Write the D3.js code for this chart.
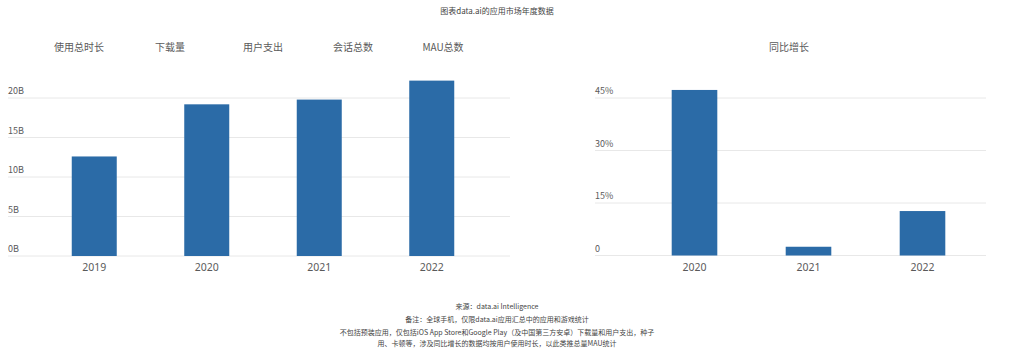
<!DOCTYPE html>
<html>
<head>
<meta charset="utf-8">
<script src="https://cdn.jsdelivr.net/npm/d3@7"></script>
<style>
  html, body { margin: 0; padding: 0; background: #fff; }
  svg { display: block; font-family: "Noto Sans CJK SC", "Noto Sans", sans-serif; }
</style>
</head>
<body>
<svg id="chart" width="1025" height="350"></svg>
<script>
// Annual totals (billions) and year-over-year growth (%)
const years = ["2019", "2020", "2021", "2022"];
const totals = [12.6, 19.2, 19.8, 22.2];
const growthYears = ["2020", "2021", "2022"];
const growth = [47.3, 2.5, 12.7];

const leftTicks = [0, 5, 10, 15, 20];
const leftTickLabels = ["0B", "5B", "10B", "15B", "20B"];
const rightTicks = [0, 15, 30, 45];
const rightTickLabels = ["0", "15%", "30%", "45%"];

const metrics = ["使用总时长", "下载量", "用户支出", "会话总数", "MAU总数"];
const title = "图表data.ai的应用市场年度数据";
const rightTitle = "同比增长";
const notes = [
  "来源：data.ai Intelligence",
  "备注：全球手机，仅限data.ai应用汇总中的应用和游戏统计",
  "不包括预装应用，仅包括iOS App Store和Google Play（及中国第三方安卓）下载量和用户支出，种子",
  "用、卡顿等，涉及同比增长的数据均按用户使用时长，以此类推总量MAU统计"
];

const BAR = "#2b6ba7";
const GRID = "#e8e8e8";
const TEXT = "#5a5a5a";

const svg = d3.select("#chart");

// Title
svg.append("text")
  .attr("x", 497).attr("y", 14)
  .attr("text-anchor", "middle")
  .attr("font-size", 8).attr("fill", "#444")
  .text(title);

// Metric selector row
const metricX = [79, 170, 263, 353, 443];
svg.append("g").selectAll("text").data(metrics).join("text")
  .attr("x", (d, i) => metricX[i]).attr("y", 51)
  .attr("text-anchor", "middle")
  .attr("font-size", 10).attr("fill", TEXT)
  .text(d => d);

svg.append("text")
  .attr("x", 789).attr("y", 51)
  .attr("text-anchor", "middle")
  .attr("font-size", 10).attr("fill", TEXT)
  .text(rightTitle);

// Draws one bar panel with gridlines and labels above each line
function panel(cats, vals, ticks, tickLabels, opt) {
  const g = svg.append("g");
  const x = d3.scaleBand().domain(cats).range(opt.xRange)
    .paddingInner(0.6).paddingOuter(0.3);
  const y = d3.scaleLinear().domain(opt.yDomain).range(opt.yRange);

  const grid = g.append("g").selectAll("g").data(ticks).join("g");
  grid.append("line")
    .attr("x1", opt.gridX[0]).attr("x2", opt.gridX[1])
    .attr("y1", d => y(d)).attr("y2", d => y(d))
    .attr("stroke", GRID).attr("stroke-width", 1);
  grid.append("text")
    .attr("x", opt.labelX).attr("y", d => y(d) - 4)
    .attr("font-size", 9).attr("fill", TEXT)
    .text((d, i) => tickLabels[i]);

  g.append("g").selectAll("rect").data(vals).join("rect")
    .attr("x", (d, i) => x(cats[i]))
    .attr("width", x.bandwidth())
    .attr("y", d => y(d))
    .attr("height", d => y(0) - y(d))
    .attr("fill", BAR);

  const xAxis = d3.axisBottom(x).tickSize(0).tickPadding(8);
  const ax = g.append("g").attr("transform", `translate(0,${y(0)})`).call(xAxis);
  ax.select(".domain").remove();
  ax.selectAll("text").attr("font-size", 10.5).attr("fill", TEXT)
    .attr("font-family", "'Noto Sans', sans-serif");
}

panel(years, totals, leftTicks, leftTickLabels, {
  xRange: [38, 488], yDomain: [0, 20], yRange: [256, 98],
  gridX: [8, 510], labelX: 8
});

panel(growthYears, growth, rightTicks, rightTickLabels, {
  xRange: [637.5, 979.5], yDomain: [0, 45], yRange: [255.5, 98],
  gridX: [595, 986], labelX: 595
});

// Source and notes
svg.append("g").selectAll("text").data(notes).join("text")
  .attr("x", 497).attr("y", (d, i) => [309, 322, 335, 346][i])
  .attr("text-anchor", "middle")
  .attr("font-size", 7).attr("fill", "#444")
  .text(d => d);
</script>
</body>
</html>
